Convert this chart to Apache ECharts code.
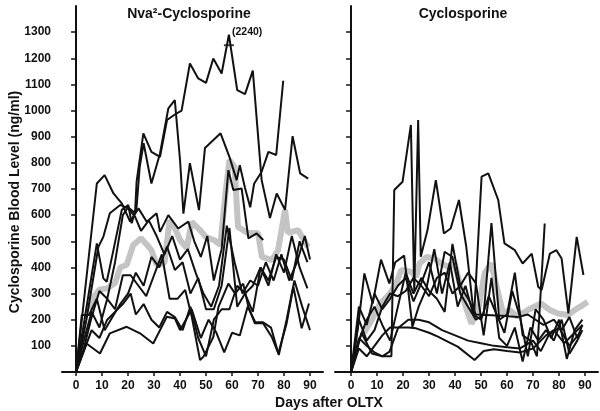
<!DOCTYPE html>
<html><head><meta charset="utf-8">
<script src="https://cdn.jsdelivr.net/npm/echarts@6/dist/echarts.min.js"></script>
<style>html,body{margin:0;padding:0;background:#fff}#c{width:600px;height:411px}</style>
</head><body><div id="c"></div>
<script>
// ---- tick labels ----
const dayTicks = [0,10,20,30,40,50,60,70,80,90];
const levelTicks = [100,200,300,400,500,600,700,800,900,1000,1100,1200,1300];

// ---- Nva2-Cyclosporine patients: [day, ng/ml] ----
const nvaA = [[0,0],[3,90],[6,210],[9,310],[12,280],[15,420],[18,600],[20,630],[22.7,608],[23.3,728],[25.9,913],[29,842],[32.3,823],[35,964],[38,985],[40.6,1000],[43.8,1180],[47,1123],[50,1106],[52.8,1199],[56,1142],[58.8,1290],[62,1078],[65,1063],[68,1153],[71.4,734],[74.6,589],[77.2,683],[80.4,620],[83.3,902],[86.2,760],[89.3,740]];
const nvaB = [[0,0],[8,492],[10.5,358],[11.8,345],[14.4,467],[17.6,620],[20.1,639],[21.4,569],[23.3,632],[24.5,785],[26,875],[29,721],[32.3,836],[35.5,1008],[38,1040],[40,811],[41.3,606],[43.8,799],[47.3,619],[49.6,857],[55.6,913],[59,823],[61.8,734],[63,791],[65,704],[67,630],[68.5,720],[71.4,766],[74,842],[77,830],[79.7,1114]];
const nvaC = [[0,0],[8,721],[11,753],[14.4,683],[17.6,645],[20.8,575],[24,626],[27.2,575],[31,607],[32.3,536],[35.5,600],[39.3,549],[43.2,575],[45.5,500],[48,440],[50.5,520],[53,350],[56,470],[58.6,772],[60.5,696],[63.7,702],[66.3,511],[69.5,530],[72,505]];
const nvaD = [[0,0],[4,200],[8.6,479],[10.5,517],[13,607],[17,639],[20,626],[22.7,594],[25,540],[28,580],[31,520],[34,450],[37,520],[40,430],[43,470],[46,380],[49,300],[52,250],[55,330],[58,560],[61,420],[64,300],[67,350],[70,330],[73,420],[76,350],[79,450],[82,350],[85,420],[88,520],[90,430]];
const nvaE = [[0,0],[2.2,218],[5,218],[8,280],[11,160],[14,210],[17,260],[20,300],[23,380],[26,330],[29,440],[32,400],[35,480],[38,390],[41,420],[44,300],[47,360],[50,240],[53,240],[56,330],[59,550],[62,250],[65,300],[68,230],[71,400],[74,330],[77,450],[80,380],[83,520],[86,400],[89,320]];
const nvaF = [[0,0],[3,120],[6,230],[9,170],[12,280],[15,240],[18,370],[21,370],[24,330],[27,290],[30,370],[33,450],[36,280],[39,280],[42,314],[44.5,212],[47.7,46],[49,58],[52.8,134],[54.8,249],[58.6,338],[61.2,300],[64.3,338],[66.3,249],[68.8,186],[72,186],[75.3,134],[77.8,71],[81,186],[83.6,326],[86.8,167],[89.6,262]];
const nvaG = [[0,0],[4,109],[9.2,71],[13,148],[19.5,173],[24.6,148],[29.7,109],[34.9,211],[38,205],[40,160],[44.5,240],[48,130],[51,200],[54,150],[57,75],[60,150],[63,140],[66,250],[69,190],[72,190],[75,170],[78,65],[81,200],[84,350],[87,250],[90,160]];
const nvaH = [[0,0],[3,80],[6,160],[9,130],[12,200],[15,230],[18,260],[21,300],[23,220],[26,260],[29,200],[32,170],[35,230],[38,210],[41,160],[44,250],[47,130],[50,60],[53,200],[56,240],[59,240],[62,330],[65,300],[68,330],[71,400],[74,350],[77,440],[80,430],[83,350],[86,500],[89,420]];
const nvaMean = [[5,240],[7,290],[9,315],[12,320],[15,340],[17,400],[19.5,410],[22,486],[25,512],[27,490],[29,466],[31,410],[34,417],[36,581],[38,551],[40,505],[42.6,474],[44.5,574],[47.7,543],[50,516],[53,505],[55.5,486],[57.5,684],[59,811],[61,784],[62.3,555],[66,532],[70,532],[71.5,440],[75.4,428],[77.7,466],[80.4,620],[81.5,532],[85.4,543],[89.2,478]];
const nvaPeakMark = [[58.8,1250]];

// ---- Cyclosporine patients: [day, ng/ml] ----
const cyA = [[0,0],[3,130],[6,100],[9,75],[12,60],[15.5,60],[16.6,696],[19.8,728],[23,945],[24.3,307],[25.8,964],[26.8,441],[29.4,543],[32.6,734],[35.7,530],[38.3,549],[41.5,658],[44.3,480],[47.3,211],[50.2,747],[52.8,760],[56.6,658],[59,492],[63,466],[66,415],[69.5,453],[72,326],[73.3,314],[76.5,453],[79,466],[81,434],[83.6,224],[86.8,517],[89.4,371]];
const cyB = [[0,0],[3,250],[6,180],[9,300],[12,240],[15,280],[18,330],[21,360],[24,270],[27,340],[30,420],[33,300],[36,460],[39,440],[42,300],[45,250],[48,200],[51,220],[54,570],[57,200],[60,220],[63,380],[66,140],[69,120],[71.5,60],[74.5,568]];
const cyC = [[0,0],[2.6,167],[5.1,377],[8.3,262],[11.5,430],[14.7,339],[17,420],[20.4,445],[23.6,173],[26,250],[29,320],[32,470],[35,300],[38,420],[41,250],[44,330],[47,220],[50,200],[53,290],[56,220],[59,150],[62,310],[65,210],[68,60],[71,240],[74,200],[77,130],[80,200],[83,50],[86,160],[89,200]];
const cyD = [[0,0],[3,90],[6,60],[9,100],[12,140],[15,170],[18,170],[22,170],[25,167],[30,150],[33.4,135],[36,122],[41,97],[47.5,46],[51,80],[55,87],[60,80],[65,75],[70,90],[75,140],[78,160],[82,110],[86,150],[89,180]];
const cyE = [[0,0],[4,150],[8,71],[12,60],[14.8,78],[18,167],[22,200],[26,200],[30,190],[35,160],[40,140],[45,120],[50,110],[55,100],[60,95],[65,90],[70,120],[73,80],[76,140],[80,170],[84,100],[88,150]];
const cyF = [[0,0],[3,200],[6,120],[9,160],[12,250],[15,300],[18,290],[21,310],[24,360],[27,330],[30,290],[33,360],[36,380],[39,300],[42,330],[45,280],[48,220],[52,218],[58,215],[64,210],[68,220],[71,200],[74,180],[78,200],[81,160],[84,210],[87,130],[89,180]];
const cyG = [[0,0],[3,120],[6,200],[9,250],[12,180],[15,120],[18,250],[21,380],[24,300],[27,360],[30,310],[33,280],[36,230],[39,490],[42,330],[45,380],[48,340],[51,140],[54,360],[57,130],[60,100],[63,170],[66,40],[69,170],[72,120],[75,160],[78,120],[81,200],[84,70],[87,120],[89,160]];
const cyMean = [[5,150],[8,200],[11,260],[14,290],[17,330],[19.3,390],[23,384],[25,364],[26.3,415],[29,440],[32,434],[34.7,415],[37.3,402],[39.8,415],[41.8,339],[43.7,262],[46.3,185],[48.9,237],[51.4,380],[54,415],[56.6,300],[58.5,224],[61,237],[64,211],[68,237],[73,262],[76.5,237],[79.6,224],[83.5,218],[86,237],[89,255],[91,269]];

const nvaLines = [nvaA,nvaB,nvaC,nvaD,nvaE,nvaF,nvaG,nvaH];
const cyLines = [cyA,cyB,cyC,cyD,cyE,cyF,cyG];

const FONT = '"Liberation Sans", Arial, sans-serif';
const INK = '#111111';

function xAx(idx, min, max){
  return {gridIndex: idx, type:'value', min:min, max:max,
    axisLine:{show:true, onZero:false, lineStyle:{color:INK,width:2}},
    axisTick:{show:true, length:4, customValues:dayTicks, lineStyle:{color:INK,width:1.5}},
    axisLabel:{show:true, customValues:dayTicks, margin:8, color:INK, fontFamily:FONT, fontWeight:'bold', fontSize:12, formatter: v => String(v)},
    splitLine:{show:false}};
}
function yAx(idx, labels){
  return {gridIndex: idx, type:'value', min:0, max:1400,
    axisLine:{show:true, lineStyle:{color:INK,width:2}},
    axisTick:{show:true, length:5, customValues:levelTicks, lineStyle:{color:INK,width:1.5}},
    axisLabel:{show:labels, customValues:levelTicks, margin:11, color:INK, fontFamily:FONT, fontWeight:'bold', fontSize:12, formatter: v => String(v)},
    splitLine:{show:false}};
}
function lineSeries(data, idx){
  return {type:'line', xAxisIndex:idx, yAxisIndex:idx, data:data, symbol:'none', z:3,
    lineStyle:{color:INK, width:2}, silent:true};
}
function meanSeries(data, idx){
  return {type:'line', xAxisIndex:idx, yAxisIndex:idx, data:data, symbol:'none', z:2,
    lineStyle:{color:'#c4c4c4', width:6}, silent:true};
}

const series = [meanSeries(nvaMean,0), meanSeries(cyMean,1)];
nvaLines.forEach(d => series.push(lineSeries(d,0)));
cyLines.forEach(d => series.push(lineSeries(d,1)));
series.push({type:'scatter', xAxisIndex:0, yAxisIndex:0, data:nvaPeakMark, symbol:'rect', symbolSize:[10,2], itemStyle:{color:INK}, z:4});

const chart = echarts.init(document.getElementById('c'), null, {renderer:'canvas'});
chart.setOption({
  animation:false,
  backgroundColor:'#fff',
  grid:[{left:62, top:6, width:261, height:366},{left:335, top:6, width:263, height:366}],
  xAxis:[xAx(0,-5.4,95), xAx(1,-6.2,95)],
  yAxis:[yAx(0,true), yAx(1,false)],
  series: series,
  graphic:[
    {type:'text', x:189, y:14, style:{text:'Nva²-Cyclosporine', align:'center', verticalAlign:'middle', font:'bold 14px '+FONT, fill:INK}},
    {type:'text', x:463, y:14, style:{text:'Cyclosporine', align:'center', verticalAlign:'middle', font:'bold 14px '+FONT, fill:INK}},
    {type:'text', x:232, y:32, style:{text:'(2240)', align:'left', verticalAlign:'middle', font:'bold 10.5px '+FONT, fill:INK}},
    {type:'text', x:329, y:403, style:{text:'Days after OLTX', align:'center', verticalAlign:'middle', font:'bold 14px '+FONT, fill:INK}},
    {type:'text', x:15, y:202, rotation:Math.PI/2, style:{text:'Cyclosporine Blood Level (ng/ml)', align:'center', verticalAlign:'middle', font:'bold 14px '+FONT, fill:INK}}
  ]
});
</script></body></html>
